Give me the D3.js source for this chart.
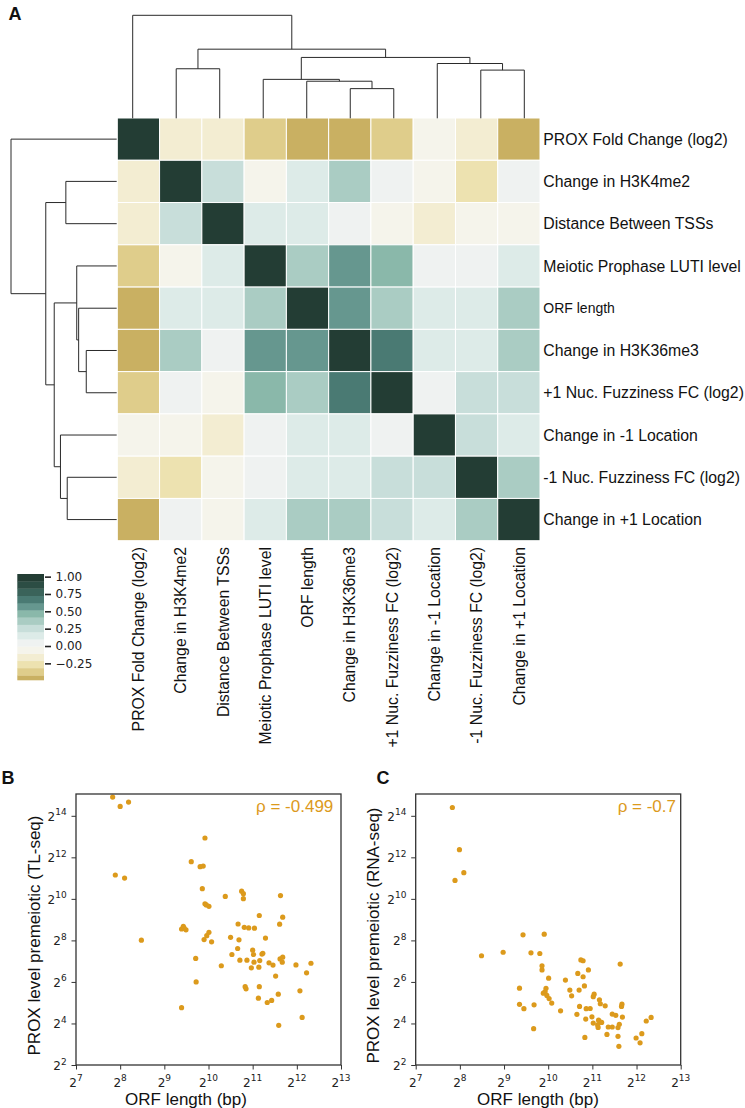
<!DOCTYPE html>
<html><head><meta charset="utf-8">
<script src="https://cdn.jsdelivr.net/npm/d3@7"></script>
<style>body{margin:0;background:#fff} svg{display:block}</style>
</head><body>
<svg id="chart" width="745" height="1108"></svg>
<script>
// ---------------- DATA ----------------
const features = [
  "PROX Fold Change (log2)", "Change in H3K4me2", "Distance Between TSSs",
  "Meiotic Prophase LUTI level", "ORF length", "Change in H3K36me3",
  "+1 Nuc. Fuzziness FC (log2)", "Change in -1 Location",
  "-1 Nuc. Fuzziness FC (log2)", "Change in +1 Location"
];
const corr = [
  [ 1.00,-0.16,-0.16,-0.37,-0.46,-0.46,-0.37,-0.05,-0.16,-0.46],
  [-0.16, 1.00, 0.25,-0.05, 0.15, 0.36, 0.05,-0.05,-0.27, 0.05],
  [-0.16, 0.25, 1.00, 0.15, 0.15, 0.05,-0.05,-0.16,-0.05,-0.05],
  [-0.37,-0.05, 0.15, 1.00, 0.36, 0.57, 0.46, 0.05, 0.05, 0.15],
  [-0.46, 0.15, 0.15, 0.36, 1.00, 0.57, 0.36, 0.15, 0.15, 0.36],
  [-0.46, 0.36, 0.05, 0.57, 0.57, 1.00, 0.67, 0.15, 0.15, 0.36],
  [-0.37, 0.05,-0.05, 0.46, 0.36, 0.67, 1.00, 0.05, 0.25, 0.25],
  [-0.05,-0.05,-0.16, 0.05, 0.15, 0.15, 0.05, 1.00, 0.25, 0.15],
  [-0.16,-0.27,-0.05, 0.05, 0.15, 0.15, 0.25, 0.25, 1.00, 0.36],
  [-0.46, 0.05,-0.05, 0.15, 0.36, 0.36, 0.25, 0.15, 0.36, 1.00]
];
// linkage rows: [childA, childB, height]; node ids start at 10
const linkage = [
  [5, 6, 0.288], [4, 10, 0.360], [3, 11, 0.378], [8, 9, 0.468],
  [1, 2, 0.481], [7, 13, 0.532], [12, 15, 0.591], [14, 16, 0.671],
  [0, 17, 1.000]
];
const colorDomain = [-0.526, 1.038];
const colorbarExtent = [-0.49, 1.038];
const colorbarTicks = [1.0, 0.75, 0.5, 0.25, 0.0, -0.25];
const palette = ["#C9B062","#DFCD8B","#EDE2B0","#F3EDD2","#F5F4EB","#EFF2F1",
  "#DDEBE8","#C8DEDA","#AACCC3","#8AB8AA","#66978F","#4A7A73","#3A635A","#2C4D44","#233D34"];

// Scatter data, log2 values
const bOrfLog2 = [7.83,8.00,8.19,7.89,8.10,8.48,9.92,9.61,9.81,9.88,9.86,9.92,9.95,10.01,10.38,10.75,10.79,10.79,11.63,11.15,
  11.68,9.39,9.43,9.45,9.49,10.01,9.96,9.90,10.07,10.67,10.81,10.91,11.04,11.61,10.50,10.69,11.29,10.66,10.53,11.00,
  11.02,11.21,11.23,10.71,10.87,11.16,11.03,10.97,11.14,9.71,10.29,11.37,11.46,11.62,11.68,11.67,11.98,12.32,11.52,12.22,
  9.72,10.83,10.85,11.15,12.07,11.13,11.58,11.33,11.43,9.39,11.59,12.12];
const bProxLog2 = [14.90,14.45,14.66,11.15,11.00,8.01,12.93,11.79,11.55,11.58,10.49,9.76,9.71,9.64,10.12,10.37,10.25,10.01,10.16,9.20,
  9.12,8.55,8.68,8.59,8.51,8.39,8.23,8.04,7.93,8.79,8.63,8.60,8.59,8.78,8.15,8.03,8.11,7.61,7.32,7.53,
  7.32,7.34,7.38,7.05,7.05,7.03,6.95,6.68,6.71,7.13,6.78,6.92,6.81,7.11,7.19,6.95,6.82,6.90,6.28,6.44,
  6.00,5.77,5.67,5.77,5.57,5.22,5.41,5.01,5.11,4.76,3.91,4.29];
const cOrfLog2 = [7.83,7.99,8.09,7.89,8.49,8.98,9.43,9.91,9.61,9.81,9.86,9.86,10.01,9.35,10.74,10.79,10.91,11.63,10.39,10.67,
  10.79,10.82,10.49,10.70,10.53,9.89,9.95,9.93,9.97,10.02,10.08,9.35,9.45,9.68,10.28,9.67,11.04,11.02,11.16,11.18,
  11.29,10.71,10.86,10.95,10.65,10.99,10.85,11.02,11.14,11.17,11.21,11.13,11.36,11.45,11.33,11.45,11.53,11.67,11.66,11.68,
  11.61,11.58,11.58,11.60,10.83,11.99,12.08,12.12,12.22,12.33,11.12];
const cProxLog2 = [14.40,12.37,11.26,10.89,7.26,7.43,8.27,8.30,7.40,7.37,6.78,6.58,6.18,5.70,7.06,7.02,6.58,6.86,6.09,6.41,
  6.25,5.81,5.61,5.61,5.33,5.46,5.69,5.54,5.35,5.20,4.98,4.92,4.71,4.90,4.61,3.75,5.41,5.29,5.14,4.95,
  4.85,4.82,4.71,4.72,4.44,4.32,4.21,4.02,4.16,4.08,4.05,3.81,3.83,3.83,3.47,4.45,4.39,4.93,4.82,4.31,
  3.96,3.80,3.38,2.90,3.33,3.30,3.07,3.51,4.12,4.29,3.93];
const xTickExps = [7, 8, 9, 10, 11, 12, 13];
const yTickExps = [2, 4, 6, 8, 10, 12, 14];
const xDomainLog2 = [7, 13];
const yDomainLog2 = [2, 15.05];
const rhoTexts = ["\u03c1 = -0.499", "\u03c1 = -0.7"];
const yLabels = ["PROX level premeiotic (TL-seq)", "PROX level premeiotic (RNA-seq)"];
const xLabel = "ORF length (bp)";

// ---------------- DRAW ----------------
const svg = d3.select("#chart");
const SANS = "'Liberation Sans', Arial, Helvetica, sans-serif";
const DEJAVU = "'DejaVu Sans', sans-serif";
const n = features.length;

// Heatmap
const hx = d3.scaleBand().domain(d3.range(n)).range([117.3, 540]);
const hy = d3.scaleBand().domain(d3.range(n)).range([118, 540.7]);
const color = d3.scaleQuantize().domain(colorDomain).range(palette);

const cells = [];
corr.forEach((row, i) => row.forEach((v, j) => cells.push({i, j, v})));
svg.append("g").selectAll("rect").data(cells).join("rect")
  .attr("x", d => hx(d.j)).attr("y", d => hy(d.i))
  .attr("width", hx.bandwidth()).attr("height", hy.bandwidth())
  .attr("fill", d => color(d.v))
  .attr("stroke", "#fff").attr("stroke-width", 1);

// Row labels
svg.append("g").selectAll("text").data(features).join("text")
  .attr("x", 543.3).attr("y", (d, i) => hy(i) + hy.bandwidth() / 2)
  .attr("dy", "0.36em")
  .attr("font-family", SANS)
  .attr("font-size", d => d === "ORF length" ? 14 : 15.8)
  .attr("fill", "#111")
  .text(d => d);

// Column labels
svg.append("g").selectAll("text").data(features).join("text")
  .attr("transform", (d, i) => `translate(${hx(i) + hx.bandwidth() / 2},547) rotate(-90)`)
  .attr("dy", "0.36em").attr("text-anchor", "end")
  .attr("font-family", SANS).attr("font-size", 15.8).attr("fill", "#111")
  .text(d => d);

// Dendrograms
function dendroSegments() {
  const pos = d3.range(n).map(i => ({p: i, h: 0}));
  const segs = [];
  linkage.forEach(([a, b, h]) => {
    const A = pos[a], B = pos[b];
    segs.push({a: A, b: B, h});
    pos.push({p: (A.p + B.p) / 2, h});
  });
  return segs;
}
const segs = dendroSegments();
const topLeaf = d3.scaleLinear().domain([0, n - 1]).range([132.7, 524.3]);
const topH = d3.scaleLinear().domain([0, 1]).range([118.3, 15.3]);
svg.append("g").selectAll("path").data(segs).join("path")
  .attr("d", s => `M${topLeaf(s.a.p)},${topH(s.a.h)}V${topH(s.h)}H${topLeaf(s.b.p)}V${topH(s.b.h)}`)
  .attr("fill", "none").attr("stroke", "#2a2a2a").attr("stroke-width", 1);
const leftLeaf = d3.scaleLinear().domain([0, n - 1])
  .range([hy(0) + hy.bandwidth() / 2, hy(n - 1) + hy.bandwidth() / 2]);
const leftH = d3.scaleLinear().domain([0, 1]).range([116.7, 11]);
svg.append("g").selectAll("path").data(segs).join("path")
  .attr("d", s => `M${leftH(s.a.h)},${leftLeaf(s.a.p)}H${leftH(s.h)}V${leftLeaf(s.b.p)}H${leftH(s.b.h)}`)
  .attr("fill", "none").attr("stroke", "#2a2a2a").attr("stroke-width", 1);

// Colorbar
const cbY = d3.scaleLinear().domain(colorbarExtent).range([680, 574]);
const edges = [colorDomain[0], ...color.thresholds(), colorDomain[1]];
const bands = palette.map((c, i) => ({
  c, lo: Math.max(edges[i], colorbarExtent[0]), hi: Math.min(edges[i + 1], colorbarExtent[1])
})).filter(b => b.hi > b.lo);
const cb = svg.append("g");
cb.selectAll("rect").data(bands).join("rect")
  .attr("x", 17.3).attr("width", 26.7)
  .attr("y", b => cbY(b.hi)).attr("height", b => cbY(b.lo) - cbY(b.hi) + 0.3)
  .attr("fill", b => b.c);
const cbAxis = d3.axisRight(cbY).tickValues(colorbarTicks).tickSize(6).tickPadding(4.5)
  .tickFormat(d => d3.format(".2f")(d).replace("-", "\u2212"));
const cbg = cb.append("g").attr("transform", "translate(45,0)").call(cbAxis);
cbg.select(".domain").remove();
cbg.selectAll(".tick line").attr("stroke", "#222").attr("stroke-width", 1.6);
cbg.selectAll(".tick text").attr("font-family", DEJAVU).attr("font-size", 12).attr("fill", "#222");

// Panel letters
function letter(t, x, y) {
  svg.append("text").attr("x", x).attr("y", y).attr("font-family", SANS)
    .attr("font-weight", "bold").attr("font-size", 18).attr("fill", "#111").text(t);
}
letter("A", 8.5, 19.5);
letter("B", 1.5, 783.5);
letter("C", 376.5, 784);

// Scatter panels
const orange = "#DC9A1C";
function scatter(left, top, xs, ys, rho, rhoX, ylab, ylabX, xlabX) {
  const right = left + 265, bottom = 1065;
  const x = d3.scaleLinear().domain(xDomainLog2).range([left, right]);
  const y = d3.scaleLinear().domain(yDomainLog2).range([bottom, top]);
  const g = svg.append("g");
  const clipId = "clip" + Math.round(left);
  g.append("clipPath").attr("id", clipId).append("rect")
    .attr("x", left).attr("y", top).attr("width", right - left).attr("height", bottom - top);
  // x ticks
  const xa = g.append("g").attr("transform", `translate(0,${bottom})`)
    .call(d3.axisBottom(x).tickValues(xTickExps).tickSize(4.5).tickFormat(""));
  xa.select(".domain").remove();
  xa.selectAll(".tick line").attr("stroke", "#333");
  g.append("g").selectAll("text").data(xTickExps).join("text")
    .attr("x", d => x(d)).attr("y", bottom + 21.5).attr("text-anchor", "middle")
    .attr("font-family", DEJAVU).attr("font-size", 12).attr("fill", "#222")
    .each(function (d) {
      const t = d3.select(this);
      t.append("tspan").text("2");
      t.append("tspan").attr("dy", -5.5).attr("font-size", 9).text(d);
    });
  // y ticks
  const ya = g.append("g").attr("transform", `translate(${left},0)`)
    .call(d3.axisLeft(y).tickValues(yTickExps).tickSize(4.5).tickFormat(""));
  ya.select(".domain").remove();
  ya.selectAll(".tick line").attr("stroke", "#333");
  g.append("g").selectAll("text").data(yTickExps).join("text")
    .attr("x", left - 9.3).attr("y", d => y(d) + 5).attr("text-anchor", "end")
    .attr("font-family", DEJAVU).attr("font-size", 12).attr("fill", "#222")
    .each(function (d) {
      const t = d3.select(this);
      t.append("tspan").text("2");
      t.append("tspan").attr("dy", -5.5).attr("font-size", 9).text(d);
    });
  // points
  g.append("g").attr("clip-path", `url(#${clipId})`).selectAll("circle")
    .data(xs.map((v, i) => [v, ys[i]])).join("circle")
    .attr("cx", d => x(d[0])).attr("cy", d => y(d[1])).attr("r", 2.6)
    .attr("fill", orange);
  // frame
  g.append("rect").attr("x", left).attr("y", top).attr("width", right - left).attr("height", bottom - top)
    .attr("fill", "none").attr("stroke", "#333").attr("stroke-width", 1.3);
  // rho
  g.append("text").attr("x", rhoX).attr("y", 811.7).attr("text-anchor", "end")
    .attr("font-family", SANS).attr("font-size", 17).attr("fill", orange).text(rho);
  // labels
  g.append("text").attr("transform", `translate(${ylabX},935.5) rotate(-90)`)
    .attr("text-anchor", "middle").attr("dy", "0.36em")
    .attr("font-family", SANS).attr("font-size", 17).attr("fill", "#111").text(ylab);
  g.append("text").attr("x", xlabX).attr("y", 1105).attr("text-anchor", "middle")
    .attr("font-family", SANS).attr("font-size", 17).attr("fill", "#111").text(xLabel);
}
scatter(76, 794, bOrfLog2, bProxLog2, rhoTexts[0], 333.3, yLabels[0], 33.5, 186);
scatter(415.7, 794, cOrfLog2, cProxLog2, rhoTexts[1], 676, yLabels[1], 373.2, 538);
</script>
</body></html>
